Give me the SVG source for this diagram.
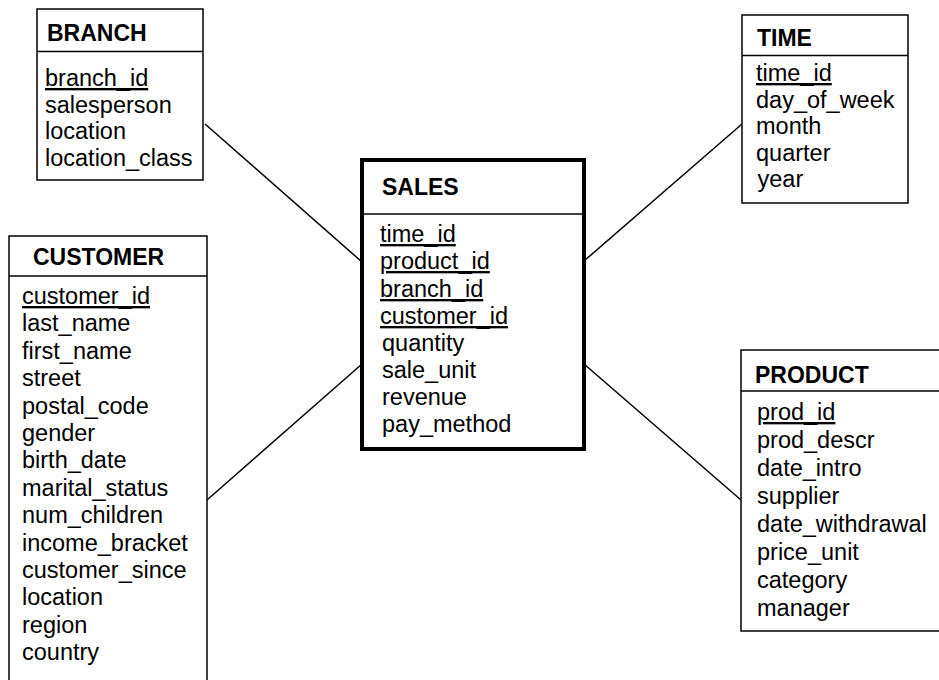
<svg xmlns="http://www.w3.org/2000/svg" width="939" height="680" viewBox="0 0 939 680">
  <style>
    .box { fill: #ffffff; stroke: #000000; stroke-width: 1.5; }
    .fact { fill: #ffffff; stroke: #000000; stroke-width: 4; }
    .rule { stroke: #000000; stroke-width: 1.5; }
    .link { stroke: #000000; stroke-width: 1.5; fill: none; }
    .title { font-family: "Liberation Sans", Arial, sans-serif; font-size: 23px; font-weight: bold; fill: #000000; }
    .field { font-family: "Liberation Sans", Arial, sans-serif; font-size: 23.5px; fill: #000000; }
    .key { text-decoration: underline; text-decoration-thickness: 1px; text-underline-offset: 3px; }
  </style>

  <rect width="939" height="680" fill="#ffffff"/>

  <!-- relationships from the fact table to each dimension -->
  <g id="connectors">
    <line class="link" x1="205" y1="124" x2="362" y2="262"/>
    <line class="link" x1="207" y1="500" x2="362" y2="364"/>
    <line class="link" x1="742" y1="124" x2="584" y2="261"/>
    <line class="link" x1="741" y1="500" x2="584" y2="364"/>
  </g>

  <g id="branch">
    <rect class="box" x="37" y="9" width="166" height="171"/>
    <line class="rule" x1="37" y1="51.5" x2="203" y2="51.5"/>
    <text class="title" x="47" y="41">BRANCH</text>
    <text class="field key" x="45" y="86">branch_id</text>
    <text class="field" x="45" y="112.7">salesperson</text>
    <text class="field" x="45" y="139.3">location</text>
    <text class="field" x="45" y="166">location_class</text>
  </g>

  <g id="time">
    <rect class="box" x="742" y="15" width="166" height="188"/>
    <line class="rule" x1="742" y1="55.5" x2="908" y2="55.5"/>
    <text class="title" x="757" y="46">TIME</text>
    <text class="field key" x="756" y="81">time_id</text>
    <text class="field" x="756" y="107.5">day_of_week</text>
    <text class="field" x="756" y="134">month</text>
    <text class="field" x="756" y="160.5">quarter</text>
    <text class="field" x="757.5" y="187">year</text>
  </g>

  <g id="sales">
    <rect class="fact" x="362" y="160" width="222" height="289"/>
    <line class="rule" x1="362" y1="214" x2="584" y2="214"/>
    <text class="title" x="382" y="195">SALES</text>
    <text class="field key" x="380" y="242">time_id</text>
    <text class="field key" x="380" y="269">product_id</text>
    <text class="field key" x="380" y="297">branch_id</text>
    <text class="field key" x="380" y="324">customer_id</text>
    <text class="field" x="382" y="351">quantity</text>
    <text class="field" x="382" y="378">sale_unit</text>
    <text class="field" x="382" y="405">revenue</text>
    <text class="field" x="382" y="432">pay_method</text>
  </g>

  <g id="customer">
    <rect class="box" x="9" y="236" width="198" height="460"/>
    <line class="rule" x1="9" y1="276" x2="207" y2="276"/>
    <text class="title" x="33" y="265">CUSTOMER</text>
    <text class="field key" x="22" y="304">customer_id</text>
    <text class="field" x="22" y="331.4">last_name</text>
    <text class="field" x="22" y="358.8">first_name</text>
    <text class="field" x="22" y="386.2">street</text>
    <text class="field" x="22" y="413.6">postal_code</text>
    <text class="field" x="22" y="441">gender</text>
    <text class="field" x="22" y="468.4">birth_date</text>
    <text class="field" x="22" y="495.8">marital_status</text>
    <text class="field" x="22" y="523.2">num_children</text>
    <text class="field" x="22" y="550.6">income_bracket</text>
    <text class="field" x="22" y="578">customer_since</text>
    <text class="field" x="22" y="605.4">location</text>
    <text class="field" x="22" y="632.8">region</text>
    <text class="field" x="22" y="660.2">country</text>
  </g>

  <g id="product">
    <rect class="box" x="741" y="350" width="220" height="281"/>
    <line class="rule" x1="741" y1="391" x2="961" y2="391"/>
    <text class="title" x="755" y="383">PRODUCT</text>
    <text class="field key" x="757" y="420">prod_id</text>
    <text class="field" x="757" y="448">prod_descr</text>
    <text class="field" x="757" y="476">date_intro</text>
    <text class="field" x="757" y="504">supplier</text>
    <text class="field" x="757" y="532">date_withdrawal</text>
    <text class="field" x="757" y="560">price_unit</text>
    <text class="field" x="757" y="588">category</text>
    <text class="field" x="757" y="616">manager</text>
  </g>
</svg>
